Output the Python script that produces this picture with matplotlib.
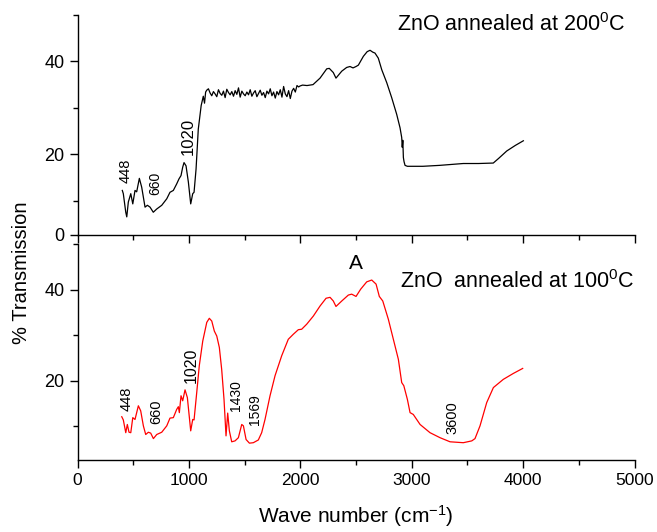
import numpy as np
import matplotlib
matplotlib.use("Agg")
import matplotlib.pyplot as plt
from matplotlib.ticker import MultipleLocator

plt.rcParams['font.family'] = ['Liberation Sans', 'DejaVu Sans']
plt.rcParams['mathtext.fontset'] = 'custom'
plt.rcParams['mathtext.rm'] = 'Liberation Sans'
plt.rcParams['mathtext.default'] = 'regular'

# FTIR spectrum, ZnO annealed at 200 C (upper panel)
wn_200_low = [402, 411, 433, 442, 456, 478, 496, 516, 531, 555, 576, 606, 627, 651,
              680, 711, 756, 801, 830, 860, 890, 911, 929, 944, 956, 974, 995, 1016,
              1034, 1046, 1064, 1084, 1110, 1129, 1140, 1150]
T_200_low = [12.2, 11.5, 7.5, 6.5, 9.7, 11.5, 9.3, 12.2, 11.9, 14.8, 12.9, 8.6, 9.0, 8.6,
             7.5, 8.2, 9.0, 10.4, 11.8, 12.2, 13.6, 14.7, 15.4, 17.2, 18.2, 17.5, 14.0, 9.3,
             11.5, 11.8, 16.8, 25.4, 30.5, 32.5, 31.0, 33.4]

# noisy plateau, sampled every 15 cm-1 from 1160 to 1985
wn_200_mid = list(range(1160, 1990, 15))
T_200_mid = [33.8, 34.1, 33.2, 32.6, 33.5, 33.0, 32.4, 33.9, 33.1, 32.7, 33.6, 32.2, 34.0, 33.3,
             32.8, 33.5, 32.5, 33.7, 32.9, 34.3, 32.3, 33.6, 33.0, 32.6, 33.4, 32.8, 33.9, 32.5,
             33.2, 33.7, 32.4, 33.1, 33.8, 32.7, 33.3, 32.2, 33.6, 33.0, 34.1, 32.6, 33.4, 32.1,
             33.5, 32.8, 33.9, 32.3, 34.6, 33.0, 32.4, 33.7, 32.0, 33.6, 34.2, 33.4, 34.8, 34.5]

wn_200_high = [1997, 2020, 2060, 2114, 2177, 2237, 2260, 2296, 2320, 2372, 2416, 2446, 2473,
               2500, 2521, 2566, 2600, 2626, 2650, 2670, 2700, 2731, 2776, 2820, 2865, 2895,
               2910, 2915, 2920, 2925, 2931, 2940, 2961, 3100, 3250, 3463, 3600, 3732, 3780,
               3853, 3930, 4002]
T_200_high = [34.7, 34.9, 34.8, 35.0, 36.4, 38.4, 38.5, 37.6, 36.4, 37.9, 38.7, 38.9, 38.6,
              38.9, 39.2, 41.1, 42.1, 42.4, 42.0, 41.8, 40.7, 38.2, 35.4, 32.2, 28.6, 25.7,
              23.6, 21.5, 23.0, 19.3, 18.4, 17.6, 17.4, 17.4, 17.6, 18.0, 18.0, 18.1, 19.1,
              20.7, 21.9, 22.9]

# FTIR spectrum, ZnO annealed at 100 C (lower panel)
wn_100 = [397, 411, 433, 447, 462, 478, 496, 516, 546, 567, 591, 612, 636, 657, 681, 711,
          756, 801, 830, 860, 890, 905, 914, 929, 944, 965, 986, 1016, 1034, 1046, 1070,
          1093, 1124, 1160, 1183, 1205, 1228, 1250, 1273, 1294, 1315, 1333, 1348, 1363,
          1384, 1414, 1444, 1474, 1489, 1513, 1543, 1578, 1623, 1653, 1683, 1728, 1773,
          1833, 1892, 1937, 1982, 2012, 2057, 2117, 2177, 2231, 2267, 2296, 2320, 2372,
          2431, 2461, 2500, 2542, 2596, 2641, 2680, 2709, 2740, 2790, 2835, 2880, 2910,
          2929, 2961, 2985, 3014, 3075, 3164, 3254, 3344, 3463, 3539, 3568, 3613, 3673,
          3733, 3822, 3912, 3996]
T_100 = [12.1, 11.4, 8.6, 10.4, 8.7, 8.6, 11.9, 11.5, 14.5, 13.4, 10.1, 8.2, 8.7, 8.5, 7.3, 8.2,
         8.7, 10.1, 11.8, 11.9, 13.7, 14.3, 13.0, 16.7, 15.6, 18.0, 16.3, 9.0, 11.5, 11.4, 17.4,
         23.3, 28.7, 32.8, 33.7, 33.1, 30.9, 29.8, 27.3, 22.5, 15.9, 7.9, 12.9, 9.0,
         6.6, 6.8, 7.5, 10.4, 10.1, 7.1, 6.3, 6.4, 7.0, 8.6, 11.5, 16.7, 21.1,
         25.5, 29.1, 30.2, 31.2, 31.3, 32.4, 34.2, 36.4, 38.1, 38.3, 37.5, 36.3, 37.5,
         38.8, 39.0, 38.5, 40.1, 41.7, 42.1, 41.2, 38.5, 37.5, 33.5, 29.1, 24.7, 19.6,
         18.9, 15.9, 13.0, 12.6, 10.4, 8.6, 7.5, 6.6, 6.4, 6.8, 7.3, 10.1, 15.2,
         18.5, 20.3, 21.6, 22.7]

# peak labels: (text, wavenumber, y position, font size)
peaks_200 = [("448", 433, 16.4, 10.5), ("660", 696, 13.8, 10), ("1020", 995, 23.8, 12)]
peaks_100 = [("448", 441, 16.1, 10.5), ("660", 711, 13.3, 10.5), ("1020", 1025, 23.3, 11.5),
             ("1430", 1420, 16.8, 10), ("1569", 1593, 13.7, 10), ("3600", 3365, 11.9, 10.5)]

ylo, yhi = 2.6, 50

fig = plt.figure(figsize=(6.57, 5.32), dpi=100)
ax1 = fig.add_axes([0.118, 0.5583, 0.8478, 0.4135])
ax2 = fig.add_axes([0.118, 0.1353, 0.8478, 0.406])

wn_200 = wn_200_low + wn_200_mid + wn_200_high
T_200 = T_200_low + T_200_mid + T_200_high
ax1.plot(wn_200, T_200, color='black', lw=0.9)
ax2.plot(wn_100, T_100, color='red', lw=0.9)

for ax in (ax1, ax2):
    ax.set_xlim(0, 5000)
    ax.set_ylim(ylo, yhi)
    ax.spines['top'].set_visible(False)
    ax.spines['right'].set_visible(False)
    ax.spines['left'].set_linewidth(1.0)
    ax.spines['bottom'].set_linewidth(1.0)
    ax.xaxis.set_major_locator(MultipleLocator(1000))
    ax.xaxis.set_minor_locator(MultipleLocator(500))
    ax.yaxis.set_minor_locator(MultipleLocator(10))
    ax.tick_params(which='major', direction='out', length=6, width=1.0, labelsize=13)
    ax.tick_params(which='minor', direction='out', length=3.5, width=1.0)

ax1.set_yticks([ylo, 20, 40], ['0', '20', '40'])
ax1.tick_params(axis='x', labelbottom=False)
ax2.set_yticks([20, 40])
ax2.tick_params(axis='x', labelsize=12.5)

for label, x, y, fs in peaks_200:
    ax1.text(x, y, label, rotation=90, ha='center', va='center', fontsize=fs)
for label, x, y, fs in peaks_100:
    ax2.text(x, y, label, rotation=90, ha='center', va='center', fontsize=fs)

ax1.text(2868, 47.9, 'ZnO annealed at 200$^{0}$C', ha='left', va='center', fontsize=15.5)
ax2.text(2895, 41.7, 'ZnO  annealed at 100$^{0}$C', ha='left', va='center', fontsize=15.5)
ax2.text(2500, 45.8, 'A', ha='center', va='center', fontsize=15)

ax2.set_xlabel('Wave number (cm$^{-1}$)', fontsize=15, labelpad=11)
fig.text(0.033, 0.487, '% Transmission', rotation=90, ha='center', va='center', fontsize=14.5)

fig.savefig('out.png', dpi=100)
